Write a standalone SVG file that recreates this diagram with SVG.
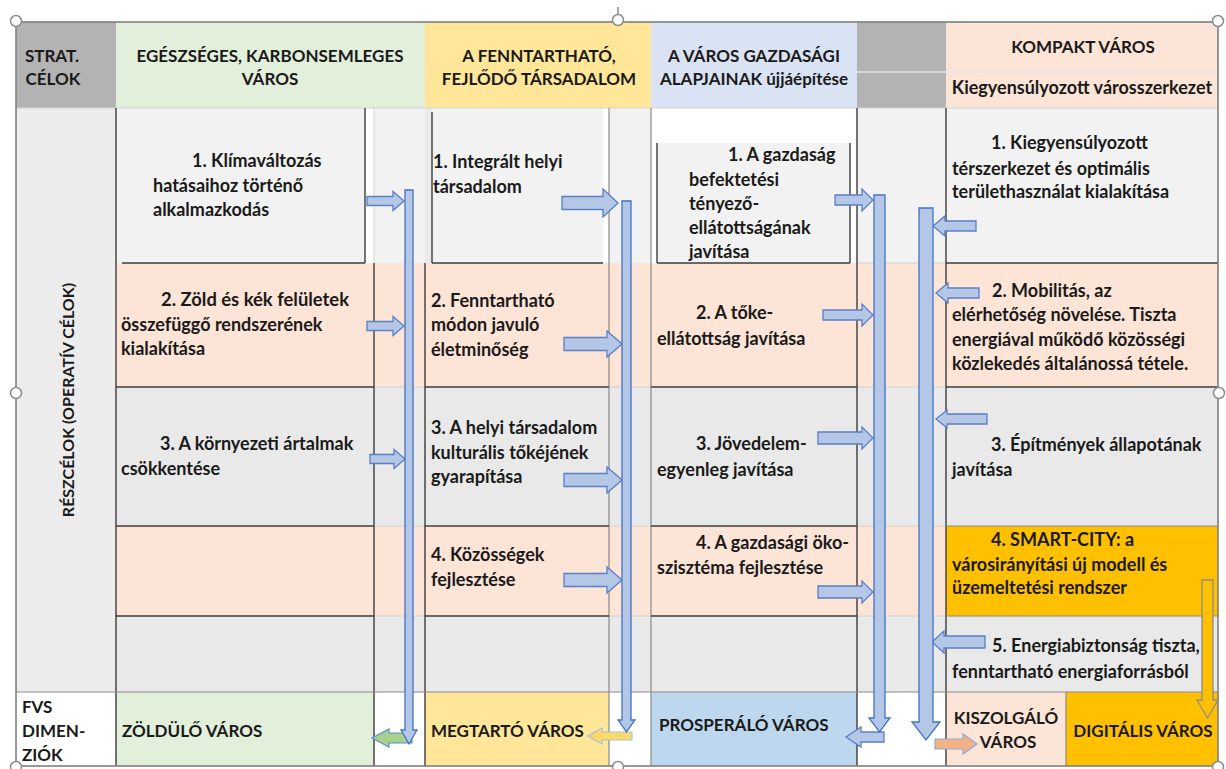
<svg xmlns="http://www.w3.org/2000/svg" width="1226" height="769" viewBox="0 0 1226 769">
<style>
text{font-family:Lato,"Liberation Sans",sans-serif;font-weight:bold;font-size:18px;fill:#1a1a1a}
.u{font-size:17px}
.s{font-size:16px}
.c{text-anchor:middle}
.dk{stroke:#3c3c3c;stroke-width:1.4;fill:none}
.gr{stroke:#8a8a8a;stroke-width:1.2;fill:none}
.lt{stroke:#d4d4d4;stroke-width:1;fill:none}
.ba{fill:#b4c7e7;stroke:#4472c4;stroke-width:1.3}
.ha{fill:#b4c7e7;stroke:#5b7fc4;stroke-width:1.3}
.hd{fill:#fff;stroke:#8c8c8c;stroke-width:1.5}
</style>
<rect width="1226" height="769" fill="#fff"/>

<g id="header">
 <rect x="16" y="22" width="100" height="86" fill="#b3b3b3"/>
 <rect x="116" y="22" width="309" height="86" fill="#e2efda"/>
 <rect x="425" y="22" width="226" height="86" fill="#ffe699"/>
 <rect x="651" y="22" width="206" height="86" fill="#dae3f3"/>
 <rect x="857" y="22" width="89" height="86" fill="#b3b3b3"/>
 <rect x="946" y="22" width="272" height="86" fill="#fce4d6"/>
 <line x1="857" y1="72" x2="1218" y2="72" stroke="#e6e6e6" stroke-width="1.5"/>
 <text class="c u" x="52" y="62">STRAT.</text>
 <text class="c u" x="53" y="85">CÉLOK</text>
 <text class="c u" x="270" y="62">EGÉSZSÉGES, KARBONSEMLEGES</text>
 <text class="c u" x="270" y="85">VÁROS</text>
 <text class="c u" x="539" y="62">A FENNTARTHATÓ,</text>
 <text class="c u" x="539" y="85">FEJLŐDŐ TÁRSADALOM</text>
 <text class="c u" x="754" y="62">A VÁROS GAZDASÁGI</text>
 <text class="c u" x="754" y="85">ALAPJAINAK újjáépítése</text>
 <text class="c u" x="1083" y="53">KOMPAKT VÁROS</text>
 <text class="c" x="1082" y="94">Kiegyensúlyozott városszerkezet</text>
</g>

<g id="rows">
 <rect x="116" y="108" width="1102" height="155" fill="#f2f2f2"/>
 <rect x="116" y="263" width="1102" height="124" fill="#fce4d6"/>
 <rect x="116" y="387" width="1102" height="139" fill="#e9e9e9"/>
 <rect x="116" y="526" width="1102" height="90" fill="#fce4d6"/>
 <rect x="116" y="616" width="1102" height="76" fill="#e9e9e9"/>
 <rect x="365" y="108" width="9" height="155" fill="#fff"/>
 <rect x="603" y="108" width="6" height="155" fill="#fff"/>
 <rect x="651" y="108" width="206" height="155" fill="#fff"/>
 <rect x="657" y="143" width="193" height="120" fill="#f2f2f2"/>
 <rect x="432" y="112" width="171" height="151" fill="#f2f2f2"/>
 <rect x="425" y="108" width="7" height="155" fill="#ebebeb"/>
</g>

<g id="side-label">
 <rect x="16" y="108" width="100" height="584" fill="#ececec"/>
 <text class="c s" x="74" y="400" transform="rotate(-90 74 400)">RÉSZCÉLOK (OPERATÍV CÉLOK)</text>
</g>

<g id="bottom-row">
 <rect x="16" y="692" width="100" height="74" fill="#fff"/>
 <rect x="116" y="692" width="258" height="74" fill="#e2efda"/>
 <rect x="374" y="692" width="51" height="74" fill="#fff"/>
 <rect x="425" y="692" width="184" height="74" fill="#ffe699"/>
 <rect x="609" y="692" width="42" height="74" fill="#fff"/>
 <rect x="651" y="692" width="206" height="74" fill="#bdd7ee"/>
 <rect x="857" y="692" width="89" height="74" fill="#fff"/>
 <rect x="946" y="692" width="120" height="74" fill="#fce4d6"/>
 <rect x="1066" y="692" width="152" height="74" fill="#ffc000"/>
 <text class="u" x="22" y="713">FVS</text>
 <text class="u" x="22" y="737">DIMEN-</text>
 <text class="u" x="22" y="761">ZIÓK</text>
 <text class="u" x="122" y="737">ZÖLDÜLŐ VÁROS</text>
 <text class="u" x="431" y="737">MEGTARTÓ VÁROS</text>
 <text class="u" x="659" y="731">PROSPERÁLÓ VÁROS</text>
 <text class="c u" x="1006" y="724">KISZOLGÁLÓ</text>
 <text class="c u" x="1008" y="748">VÁROS</text>
 <text class="c u" x="1143" y="737">DIGITÁLIS VÁROS</text>
</g>

<g id="smart-city-bg">
 <rect x="946" y="526" width="272" height="90" fill="#ffc000"/>
</g>

<g id="grid">
 <line class="lt" x1="374" y1="108" x2="374" y2="263"/>
 <line class="lt" x1="374" y1="387" x2="425" y2="387"/>
 <line class="lt" x1="374" y1="526" x2="425" y2="526"/>
 <line class="lt" x1="374" y1="616" x2="425" y2="616"/>
 <line class="lt" x1="609" y1="387" x2="651" y2="387"/>
 <line class="lt" x1="609" y1="526" x2="651" y2="526"/>
 <line class="lt" x1="609" y1="616" x2="651" y2="616"/>
 <line class="lt" x1="857" y1="263" x2="946" y2="263"/>
 <line class="lt" x1="857" y1="387" x2="946" y2="387"/>
 <line class="lt" x1="857" y1="526" x2="946" y2="526"/>
 <line class="lt" x1="857" y1="616" x2="946" y2="616"/>
 <line class="lt" x1="16" y1="108" x2="1218" y2="108"/>
 <line class="dk" x1="116" y1="108" x2="116" y2="766"/>
 <line class="dk" x1="365" y1="108" x2="365" y2="263"/>
 <line class="dk" x1="122" y1="263" x2="365" y2="263"/>
 <line class="dk" x1="374" y1="263" x2="374" y2="766"/>
 <line class="dk" x1="432" y1="112" x2="432" y2="263"/>
 <line class="dk" x1="432" y1="263" x2="603" y2="263"/>
 <line class="dk" x1="425" y1="263" x2="425" y2="766"/>
 <line class="gr" x1="609" y1="108" x2="609" y2="766"/>
 <line class="gr" x1="651" y1="108" x2="651" y2="766"/>
 <line class="dk" x1="657" y1="143" x2="657" y2="263"/>
 <line class="dk" x1="850" y1="143" x2="850" y2="263"/>
 <line class="dk" x1="657" y1="263" x2="850" y2="263"/>
 <line class="dk" x1="857" y1="108" x2="857" y2="766"/>
 <line class="dk" x1="946" y1="108" x2="946" y2="766"/>
 <line class="dk" x1="946" y1="263" x2="1218" y2="263"/>
 <line class="dk" x1="116" y1="387" x2="374" y2="387"/>
 <line class="dk" x1="425" y1="387" x2="609" y2="387"/>
 <line class="dk" x1="651" y1="387" x2="857" y2="387"/>
 <line class="dk" x1="946" y1="387" x2="1218" y2="387"/>
 <line class="dk" x1="116" y1="526" x2="374" y2="526"/>
 <line class="dk" x1="425" y1="526" x2="609" y2="526"/>
 <line class="dk" x1="651" y1="526" x2="857" y2="526"/>
 <line class="gr" x1="946" y1="526" x2="1218" y2="526"/>
 <line class="dk" x1="116" y1="616" x2="374" y2="616"/>
 <line class="dk" x1="425" y1="616" x2="609" y2="616"/>
 <line class="dk" x1="651" y1="616" x2="857" y2="616"/>
 <line class="gr" x1="946" y1="616" x2="1218" y2="616"/>
 <line class="gr" x1="16" y1="692" x2="1218" y2="692"/>
 <line class="gr" x1="1066" y1="692" x2="1066" y2="766"/>
 <rect x="16" y="22" width="1202" height="744" fill="none" stroke="#7f7f7f" stroke-width="1.6"/>
</g>

<g id="col1-goals">
 <text x="192" y="167">1. Klímaváltozás</text>
 <text x="153" y="192">hatásaihoz történő</text>
 <text x="153" y="216">alkalmazkodás</text>
 <text x="161" y="306" textLength="188" lengthAdjust="spacingAndGlyphs">2. Zöld és kék felületek</text>
 <text x="121" y="331">összefüggő rendszerének</text>
 <text x="121" y="355">kialakítása</text>
 <text x="160" y="450">3. A környezeti ártalmak</text>
 <text x="121" y="475">csökkentése</text>
</g>

<g id="col2-goals">
 <text x="433" y="168">1. Integrált helyi</text>
 <text x="433" y="193">társadalom</text>
 <text x="431" y="307">2. Fenntartható</text>
 <text x="431" y="331">módon javuló</text>
 <text x="431" y="356">életminőség</text>
 <text x="431" y="434">3. A helyi társadalom</text>
 <text x="431" y="459">kulturális tőkéjének</text>
 <text x="431" y="483">gyarapítása</text>
 <text x="431" y="561">4. Közösségek</text>
 <text x="431" y="586">fejlesztése</text>
</g>

<g id="col3-goals">
 <text x="728" y="161">1. A gazdaság</text>
 <text x="689" y="186">befektetési</text>
 <text x="689" y="210">tényező-</text>
 <text x="689" y="234">ellátottságának</text>
 <text x="689" y="258">javítása</text>
 <text x="696" y="319">2. A tőke-</text>
 <text x="657" y="345">ellátottság javítása</text>
 <text x="696" y="450">3. Jövedelem-</text>
 <text x="657" y="476">egyenleg javítása</text>
 <text x="696" y="549">4. A gazdasági öko-</text>
 <text x="657" y="574">szisztéma fejlesztése</text>
</g>

<g id="col5-goals">
 <text x="991" y="149">1. Kiegyensúlyozott</text>
 <text x="952" y="175">térszerkezet és optimális</text>
 <text x="952" y="198">területhasználat kialakítása</text>
 <text x="992" y="297">2. Mobilitás, az</text>
 <text x="952" y="321">elérhetőség növelése. Tiszta</text>
 <text x="952" y="346">energiával működő közösségi</text>
 <text x="952" y="370">közlekedés általánossá tétele.</text>
 <text x="991" y="451">3. Építmények állapotának</text>
 <text x="952" y="476">javítása</text>
 <text x="991" y="546">4. SMART-CITY: a</text>
 <text x="952" y="571">városirányítási új modell és</text>
 <text x="952" y="594">üzemeltetési rendszer</text>
 <text x="992" y="652">5. Energiabiztonság tiszta,</text>
 <text x="952" y="678">fenntartható energiaforrásból</text>
</g>

<g id="connectors">
 <path class="ha" d="M367,196.5H393V191.5L404,201L393,210.5V205.5H367Z"/>
 <path class="ha" d="M367,321.5H393V316.5L404,326L393,335.5V330.5H367Z"/>
 <path class="ha" d="M370,454.5H394V449.5L405,459L394,468.5V463.5H370Z"/>
 <path class="ha" d="M562,196.5H603V189L618,203L603,217V209.5H562Z"/>
 <path class="ha" d="M564,337.5H607V331L622,344L607,357V350.5H564Z"/>
 <path class="ha" d="M564,473.5H607V467L622,480L607,493V486.5H564Z"/>
 <path class="ha" d="M564,573.5H607V567L622,580L607,593V586.5H564Z"/>
 <path class="ha" d="M835,195H862V189L873,200L862,211V205H835Z"/>
 <path class="ha" d="M823,310H862V304L873,315L862,326V320H823Z"/>
 <path class="ha" d="M818,432H862V427L873,438L862,449V444H818Z"/>
 <path class="ha" d="M818,586H862V581L873,592L862,603V598H818Z"/>
 <path class="ha" d="M976,221H945V216L933,226L945,236V231H976Z"/>
 <path class="ha" d="M979,288H948V283L936,293L948,303V298H979Z"/>
 <path class="ha" d="M987,414H947V410L936,419L947,428V424H987Z"/>
 <path class="ha" d="M985,636H944V631L932,642L944,653V648H985Z"/>
 <path d="M412,733H389V729L372,738L389,747V743H412Z" fill="#a9d18e" stroke="#5b8fc9" stroke-width="1.2"/>
 <path class="ba" d="M405,190H413V730H417L409,744L401,730H405Z"/>
 <path d="M632,732H602V728L588,736L602,744V740H632Z" fill="#ffd966" stroke="#9dc3e6" stroke-width="1.2"/>
 <path class="ba" d="M622,201H631V720H635L626.5,732L618,720H622Z"/>
 <path class="ha" d="M884,732H861V727L846,737L861,747V742H884Z"/>
 <path class="ba" d="M874,195H885V718H890L879.5,732L869,718H874Z"/>
 <path class="ba" d="M919,208H933V722H940L926,740L912,722H919Z"/>
 <path d="M935,739H963V734L977,744L963,754V749H935Z" fill="#f4b183" stroke="#8faadc" stroke-width="1.2"/>
 <path d="M1202,580H1213V700H1218L1207.5,718L1197,700H1202Z" fill="#ffc000" stroke="#8c8c8c" stroke-width="1.3"/>
</g>

<g id="handles">
 <line x1="618" y1="7" x2="618" y2="15" stroke="#8c8c8c" stroke-width="1.5"/>
 <circle class="hd" cx="16" cy="21" r="5.5"/>
 <circle class="hd" cx="618" cy="20" r="5.5"/>
 <circle class="hd" cx="1218" cy="21" r="5.5"/>
 <circle class="hd" cx="16" cy="393" r="5.5"/>
 <circle class="hd" cx="1219" cy="393" r="5.5"/>
 <circle class="hd" cx="16" cy="767" r="5.5"/>
 <circle class="hd" cx="618" cy="767" r="5.5"/>
 <circle class="hd" cx="1218" cy="767" r="5.5"/>
</g>
</svg>
